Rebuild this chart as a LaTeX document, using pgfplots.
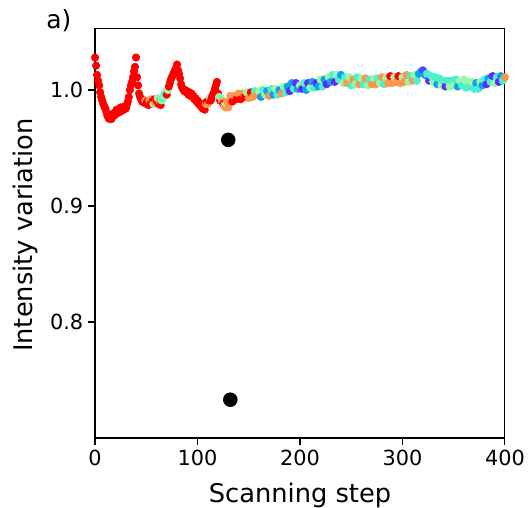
\documentclass[border=0pt]{standalone}
\usepackage{fontspec}
\setmainfont{DejaVu Sans}
\usepackage{pgfplots}
\usepackage{pgfplotstable}
\pgfplotsset{compat=1.18}

% scan data: step, intensity, colour value
\pgfplotstableread{
x y c
0 1.028 1
1 1.021 1
2 1.013 1
3 1.008 1
4 1.004 1
5 0.998 1
6 0.994 1
7 0.991 1
8 0.988 1
9 0.986 1
10 0.984 1
11 0.981 1
12 0.978 1
13 0.976 1
14 0.975 1
15 0.977 1
16 0.975 1
17 0.978 1
18 0.980 1
19 0.978 1
20 0.981 1
21 0.983 1
22 0.980 1
23 0.983 1
24 0.981 1
25 0.985 1
26 0.982 1
27 0.985 1
28 0.983 1
29 0.986 1
30 0.984 1
31 0.987 1
32 0.990 1
33 0.994 1
34 1.000 1
35 1.004 1
36 1.007 1
37 1.011 1
38 1.016 1
39 1.020 1
40 1.028 1
41 1.011 1
42 1.004 1
43 0.997 1
44 0.994 1
45 0.992 1
46 0.990 1
47 0.991 1
48 0.989 1
49 0.991 0.8
50 0.988 1
51 0.990 1
52 0.987 1
53 0.991 0.8
54 0.988 1
55 0.992 0.8
56 0.990 1
57 0.988 0.55
58 0.992 1
59 0.989 0.8
60 0.991 1
61 0.993 0.55
62 0.988 1
63 0.990 0.8
64 0.987 1
65 0.991 0.5
66 0.993 0.45
67 0.995 0.5
68 0.997 0.4
69 0.999 0.5
70 0.996 1
71 1.000 0.55
72 1.003 1
73 1.006 1
74 1.009 1
75 1.011 1
76 1.013 1
77 1.015 1
78 1.017 1
79 1.019 1
80 1.022 1
81 1.017 1
82 1.014 1
83 1.010 1
84 1.005 1
85 1.002 1
86 1.001 1
87 0.999 1
88 1.000 1
89 0.998 1
90 0.999 1
91 0.996 1
92 0.998 1
93 0.995 1
94 0.997 1
95 0.994 1
96 0.995 1
97 0.992 1
98 0.993 1
99 0.990 1
100 0.991 1
101 0.988 1
102 0.989 1
103 0.986 1
104 0.987 1
105 0.984 1
106 0.985 1
107 0.983 1
108 0.988 0.8
109 0.990 1
110 0.988 0.8
111 0.991 1
112 0.993 0.55
113 0.991 1
114 0.994 1
115 0.996 1
116 0.998 1
117 1.001 1
118 1.004 1
119 1.007 1
120 0.997 1
121 0.994 0.55
122 0.991 1
123 0.993 0.5
124 0.990 0.8
125 0.988 1
126 0.987 0.8
127 0.985 0.8
128 0.988 0.55
129 0.990 0.8
130 0.985 0.8
132 0.995 0.8
134 0.990 1
136 0.995 0.8
138 0.992 1
140 0.997 0.8
142 0.992 1
144 0.997 0.8
146 0.994 1
148 0.998 0.55
150 0.993 0.8
152 0.998 1
154 0.994 0.8
156 0.999 0.4
158 0.996 0.8
160 0.999 0.55
162 0.994 0.22
164 1.000 0.4
166 0.996 0.55
168 0.999 0.22
170 0.995 0.8
172 1.001 0.4
174 0.996 0.22
176 1.001 0.55
178 0.996 0.4
180 1.000 0.22
182 0.997 0.8
184 1.003 0.55
186 0.998 0.4
188 1.003 0.22
190 0.999 0.05
192 1.006 0.22
194 1.001 0.4
196 1.006 0.05
198 1.001 0.22
200 1.004 0.55
202 1.001 0.05
204 1.006 0.4
206 1.000 0.22
208 1.006 0.05
210 1.002 0.55
212 1.007 0.22
214 1.002 0.4
216 1.006 0.05
218 1.003 0.22
220 1.009 0.55
222 1.003 0.4
224 1.009 0.22
226 1.005 0.05
228 1.011 0.55
230 1.007 0.22
232 1.013 0.4
234 1.007 0.05
236 1.013 0.55
238 1.009 0.4
240 1.013 0.22
242 1.006 0.55
244 1.011 0.4
246 1.006 0.8
248 1.011 0.55
250 1.004 0.4
252 1.009 0.8
254 1.005 0.55
256 1.011 0.4
258 1.005 0.8
260 1.010 0.55
262 1.005 0.4
264 1.010 0.8
266 1.004 0.55
268 1.009 0.4
270 1.005 0.8
272 1.010 0.55
274 1.005 0.8
276 1.010 0.4
278 1.006 0.55
280 1.011 0.8
282 1.005 0.4
284 1.010 0.55
286 1.006 0.8
288 1.012 1
290 1.006 0.8
292 1.011 0.55
294 1.007 0.8
296 1.012 1
298 1.006 0.8
300 1.011 0.55
302 1.007 0.8
304 1.013 0.8
306 1.007 0.55
308 1.012 0.4
310 1.008 0.8
312 1.013 0.55
314 1.008 0.4
316 1.014 0.22
318 1.016 0.22
320 1.017 0.1
322 1.013 0.22
324 1.014 0.4
326 1.008 0.05
328 1.012 0.4
330 1.007 0.55
332 1.011 0.4
334 1.005 0.22
336 1.010 0.4
338 1.004 0.55
340 1.008 0.4
342 1.003 0.05
344 1.008 0.4
346 1.003 0.55
348 1.008 0.4
350 1.004 0.55
352 1.009 0.4
354 1.003 0.22
356 1.008 0.55
358 1.004 0.4
360 1.009 0.55
362 1.002 0.4
364 1.007 0.55
366 1.003 0.4
368 1.007 0.55
370 1.001 0.4
372 1.006 0.22
374 1.001 0.4
376 1.007 0.55
378 1.004 0.22
380 1.009 0.4
382 1.005 0.05
384 1.010 0.22
386 1.007 0.4
388 1.012 0.05
390 1.006 0.55
392 1.011 0.4
394 1.007 0.05
396 1.012 0.22
398 1.008 0.4
400 1.011 0.8
}\scan

\begin{document}
\begin{tikzpicture}
\begin{axis}[
    scale only axis,
    width=295pt, height=295pt,
    xmin=0, xmax=400,
    ymin=0.7, ymax=1.0534,
    xtick={0,100,200,300,400},
    ytick={0.8,0.9,1.0},
    yticklabel style={/pgf/number format/.cd, fixed, fixed zerofill, precision=1},
    /pgf/number format/assume math mode=true,
    tick align=outside, tick pos=left,
    major tick length=5pt,
    axis line style={line width=0.8pt},
    every tick/.style={black, line width=0.8pt},
    ticklabel style={font=\fontsize{15}{17}\selectfont},
    label style={font=\fontsize{18.5}{21}\selectfont},
    xlabel={Scanning step},
    ylabel={Intensity variation},
    xlabel style={at={(rel axis cs:0.5,-0.1585)}, anchor=base},
    ylabel style={at={(rel axis cs:-0.1537,0.495)}, anchor=base},
    colormap={mplrainbow}{rgb=(0.5,0,1) rgb=(0.25,0.383,0.981) rgb=(0,0.707,0.924)
      rgb=(0.25,0.924,0.831) rgb=(0.5,1,0.707) rgb=(0.75,0.924,0.556)
      rgb=(1,0.707,0.383) rgb=(1,0.383,0.195) rgb=(1,0,0)},
    point meta min=0, point meta max=1,
]
\addplot[scatter, only marks, mark=*, mark size=2.7pt, point meta=explicit,
    scatter/use mapped color={draw=mapped color, fill=mapped color}]
    table[x=x, y=y, meta=c]{\scan};
\addplot[only marks, mark=*, mark size=5pt, black]
    coordinates {(130,0.957) (132,0.733)};
\coordinate (bl) at (rel axis cs:0,0);
\coordinate (tr) at (rel axis cs:1,1);
\coordinate (tl) at (rel axis cs:0,1);
\end{axis}
\node[font=\fontsize{18}{21}\selectfont, anchor=base west, inner sep=0pt, xshift=-35.3pt] at (tl) {a)};
\path (bl) ++(-68.4pt,-49.7pt) coordinate (c1);
\path (tr) ++(16.6pt,20.2pt) coordinate (c2);
\pgfresetboundingbox
\path (c1) rectangle (c2);
\end{tikzpicture}
\end{document}
